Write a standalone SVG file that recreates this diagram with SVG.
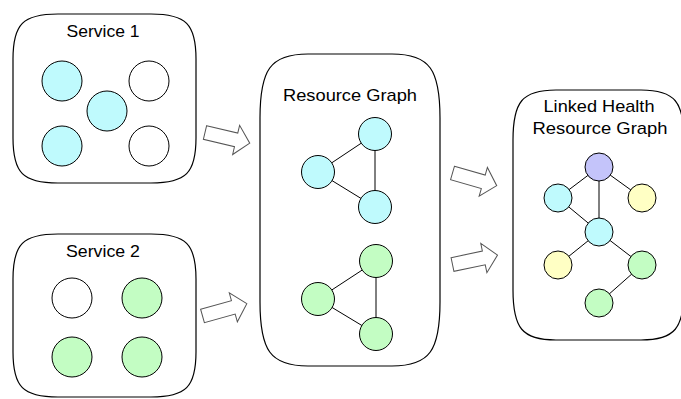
<svg xmlns="http://www.w3.org/2000/svg" width="681" height="399" viewBox="0 0 681 399">
  <style>
    .box { fill: #ffffff; stroke: #000000; stroke-width: 1.2; }
    .lbl { font-family: "Liberation Sans", Arial, sans-serif; font-size: 17px; fill: #000000; text-anchor: middle; }
    .n { stroke: #000000; stroke-width: 1; }
    .cy { fill: #BFFAFD; }
    .gr { fill: #C3FDC3; }
    .ye { fill: #FFFFC4; }
    .pu { fill: #C4C4FA; }
    .wh { fill: #ffffff; }
    .edge { stroke: #000000; stroke-width: 1; fill: none; }
    .flow { fill: #ffffff; stroke: #555555; stroke-width: 1; stroke-linejoin: miter; }
  </style>
  <defs>
    <!-- block arrow pointing along +x, tail at origin, tip at x=46 -->
    <polygon id="blk" points="0,-7 32,-7 32,-15 46,0 32,15 32,7 0,7"/>
  </defs>
  <rect width="681" height="399" fill="#ffffff"/>

  <!-- Service 1 -->
  <g id="service1">
    <path class="box" d="M58,14 H151 C186,14 196,24 196,59 V138 C196,173 186,183 151,183 H58 C23,183 13,173 13,138 V59 C13,24 23,14 58,14 Z"/>
    <text class="lbl" x="103" y="37" textLength="73" lengthAdjust="spacingAndGlyphs">Service 1</text>
    <circle class="n cy" cx="62" cy="81" r="20"/>
    <circle class="n wh" cx="149" cy="81" r="20"/>
    <circle class="n cy" cx="107" cy="111" r="20"/>
    <circle class="n cy" cx="62" cy="146" r="20"/>
    <circle class="n wh" cx="149" cy="146" r="20"/>
  </g>

  <!-- Service 2 -->
  <g id="service2">
    <path class="box" d="M58,234 H151 C186,234 196,244 196,279 V352 C196,387 186,397 151,397 H58 C23,397 13,387 13,352 V279 C13,244 23,234 58,234 Z"/>
    <text class="lbl" x="103" y="257" textLength="74" lengthAdjust="spacingAndGlyphs">Service 2</text>
    <circle class="n wh" cx="72" cy="298" r="20"/>
    <circle class="n gr" cx="142" cy="298" r="20"/>
    <circle class="n gr" cx="72" cy="357" r="20"/>
    <circle class="n gr" cx="142" cy="357" r="20"/>
  </g>

  <!-- Resource Graph -->
  <g id="resource-graph">
    <path class="box" d="M308,54 H392 C430,54 440,70 440,118 V302 C440,350 430,366 392,366 H308 C270,366 260,350 260,302 V118 C260,70 270,54 308,54 Z"/>
    <text class="lbl" x="350" y="101" textLength="134" lengthAdjust="spacingAndGlyphs">Resource Graph</text>
    <g class="edge">
      <line x1="318" y1="172" x2="375" y2="134"/>
      <line x1="318" y1="172" x2="375" y2="207"/>
      <line x1="375" y1="134" x2="375" y2="207"/>
      <line x1="318" y1="299" x2="376" y2="261"/>
      <line x1="318" y1="299" x2="376" y2="334"/>
      <line x1="376" y1="261" x2="376" y2="334"/>
    </g>
    <circle class="n cy" cx="375" cy="134" r="16.5"/>
    <circle class="n cy" cx="318" cy="172" r="16.5"/>
    <circle class="n cy" cx="375" cy="207" r="16.5"/>
    <circle class="n gr" cx="376" cy="261" r="16.5"/>
    <circle class="n gr" cx="318" cy="299" r="16.5"/>
    <circle class="n gr" cx="376" cy="334" r="16.5"/>
  </g>

  <!-- Linked Health Resource Graph -->
  <g id="linked-graph">
    <path class="box" d="M556,90 H641 C675,90 684,102 684,140 V290 C684,328 675,340 641,340 H556 C522,340 513,328 513,290 V140 C513,102 522,90 556,90 Z"/>
    <text class="lbl" x="599" y="112" textLength="111" lengthAdjust="spacingAndGlyphs">Linked Health</text>
    <text class="lbl" x="600" y="134" textLength="135" lengthAdjust="spacingAndGlyphs">Resource Graph</text>
    <g class="edge">
      <line x1="599" y1="167" x2="558" y2="198"/>
      <line x1="599" y1="167" x2="599" y2="232"/>
      <line x1="599" y1="167" x2="642" y2="198"/>
      <line x1="558" y1="198" x2="599" y2="232"/>
      <line x1="599" y1="232" x2="558" y2="265"/>
      <line x1="599" y1="232" x2="642" y2="265"/>
      <line x1="642" y1="265" x2="599" y2="303"/>
    </g>
    <circle class="n pu" cx="599" cy="167" r="14"/>
    <circle class="n cy" cx="558" cy="198" r="14"/>
    <circle class="n ye" cx="642" cy="198" r="14"/>
    <circle class="n cy" cx="599" cy="232" r="14"/>
    <circle class="n ye" cx="558" cy="265" r="14"/>
    <circle class="n gr" cx="642" cy="265" r="14"/>
    <circle class="n gr" cx="599" cy="303" r="14"/>
  </g>

  <!-- flow arrows between stages -->
  <g id="connectors">
    <use href="#blk" class="flow" transform="translate(205,132.5) rotate(13.4)"/>
    <use href="#blk" class="flow" transform="translate(202.5,316) rotate(-15.6)"/>
    <use href="#blk" class="flow" transform="translate(452.5,173) rotate(16)"/>
    <use href="#blk" class="flow" transform="translate(452.5,264.5) rotate(-11.8)"/>
  </g>
</svg>
